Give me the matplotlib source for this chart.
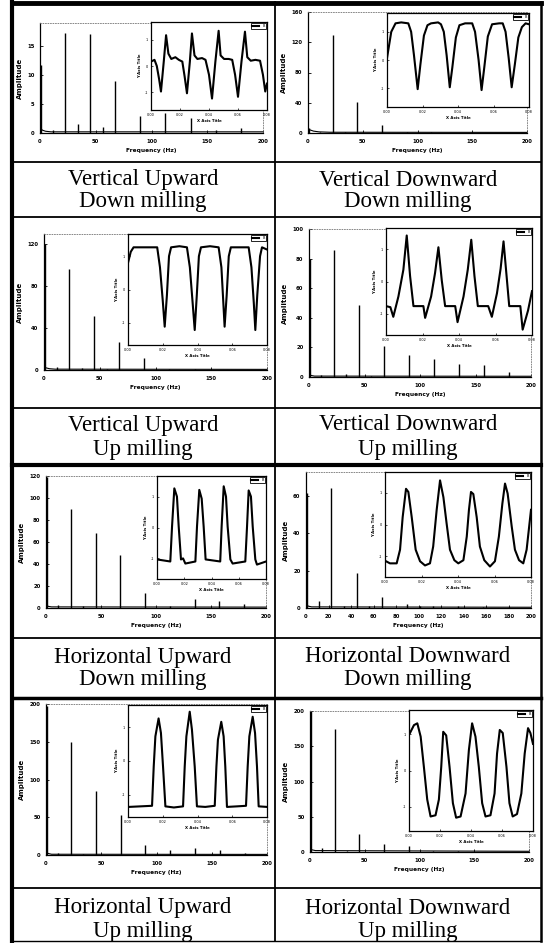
import matplotlib
matplotlib.use("Agg")
import matplotlib.pyplot as plt

W, H = 547, 943

# ---- labels under each spectrum ----
titles = [("Vertical Upward", "Down milling"), ("Vertical Downward", "Down milling"),
          ("Vertical Upward", "Up milling"), ("Vertical Downward", "Up milling"),
          ("Horizontal Upward", "Down milling"), ("Horizontal Downward", "Down milling"),
          ("Horizontal Upward", "Up milling"), ("Horizontal Downward", "Up milling")]

# ---- spectra: peak frequency (Hz) / amplitude, plus a few baseline points ----
f1 = [0.5, 11.25, 22.5, 33.75, 45, 56.25, 67.5, 90, 112.5, 135, 157.5, 180]
a1 = [11.7, 0.6, 17.3, 1.6, 17.1, 1.1, 8.9, 2.9, 3.4, 2.6, 0.6, 0.8]
bf1 = [0, 2, 5, 10, 200]
ba1 = [1.0, 0.5, 0.3, 0.2, 0.2]

f2 = [0.5, 11.25, 22.5, 33.75, 45, 67.5, 90, 112.5]
a2 = [6, 1, 129, 0.8, 41, 11, 1.5, 1.5]
bf2 = [0, 2, 5, 10, 20, 200]
ba2 = [5, 4, 2.5, 1.5, 1, 0.8]

f3 = [0.5, 11.25, 22.5, 33.75, 45, 56.25, 67.5, 90, 112.5, 135]
a3 = [120, 2.5, 96.6, 1.5, 52, 1, 26.6, 11, 1, 1]
bf3 = [0, 2, 5, 10, 200]
ba3 = [3, 2, 1.2, 0.8, 0.6]

f4 = [0.5, 11.25, 22.5, 33.75, 45, 56.25, 67.5, 90, 112.5, 135, 157.5, 180]
a4 = [80, 1.5, 86, 2, 48.5, 1, 21, 14.7, 12, 8.6, 8, 3.4]
bf4 = [0, 2, 5, 200]
ba4 = [2, 1, 0.6, 0.5]

f5 = [0.5, 11.25, 22.5, 33.75, 45, 67.5, 90, 112.5, 135, 157.5, 180]
a5 = [119, 3, 90, 2, 68, 48, 14, 2, 8.5, 6, 3.3]
bf5 = [0, 2, 5, 200]
ba5 = [3, 1.5, 1, 0.8]

f6 = [0.5, 11.25, 22.5, 33.75, 45, 56.25, 67.5, 90, 101, 112.5, 135, 157.5, 180]
a6 = [61.8, 4, 64.5, 1, 19, 1, 6, 2, 1, 1, 1, 0.8, 0.8]
bf6 = [0, 2, 5, 200]
ba6 = [2, 1, 0.6, 0.4]

f7 = [0.5, 11.25, 22.5, 33.75, 45, 67.5, 90, 112.5, 135, 157.5, 180]
a7 = [197, 2, 150, 1.5, 85, 53, 13, 7, 9, 7, 2]
bf7 = [0, 2, 5, 200]
ba7 = [4, 2, 1, 0.8]

f8 = [0.5, 11.25, 22.5, 33.75, 45, 67.5, 90, 112.5, 135]
a8 = [200, 6, 174, 2, 26, 11, 8.5, 2, 1.5]
bf8 = [0, 2, 5, 200]
ba8 = [5, 3, 2, 1]

# ---- inset time signals (normalised time / normalised signal) ----
t1 = [0.0, 0.03, 0.05, 0.07, 0.086, 0.11, 0.13, 0.15, 0.175, 0.21, 0.24, 0.27,
      0.29, 0.31, 0.335, 0.353, 0.375, 0.40, 0.44, 0.47,
      0.50, 0.526, 0.555, 0.583, 0.60, 0.63, 0.67, 0.70,
      0.725, 0.75, 0.78, 0.81, 0.83, 0.86, 0.90, 0.94, 0.965, 0.985, 1.0]
s1 = [0.55, 0.57, 0.50, 0.35, 0.21, 0.55, 0.85, 0.64, 0.58, 0.60, 0.57, 0.55,
      0.38, 0.19, 0.55, 0.87, 0.62, 0.58, 0.59, 0.57,
      0.40, 0.13, 0.55, 0.90, 0.62, 0.58, 0.58, 0.57,
      0.40, 0.15, 0.55, 0.89, 0.60, 0.56, 0.57, 0.56, 0.40, 0.21, 0.30]

t2 = [0.0, 0.03, 0.06, 0.10, 0.15, 0.17, 0.19, 0.216, 0.235, 0.26, 0.285, 0.31, 0.36,
      0.38, 0.40, 0.42, 0.442, 0.46, 0.485, 0.51, 0.55, 0.60, 0.62, 0.645, 0.666,
      0.685, 0.71, 0.74, 0.79, 0.815, 0.835, 0.857, 0.878, 0.90, 0.925, 0.95, 0.976, 1.0]
s2 = [0.52, 0.80, 0.89, 0.90, 0.89, 0.80, 0.55, 0.19, 0.45, 0.76, 0.87, 0.89, 0.90,
      0.88, 0.80, 0.55, 0.21, 0.42, 0.74, 0.87, 0.89, 0.89, 0.80, 0.50, 0.18,
      0.42, 0.75, 0.88, 0.89, 0.89, 0.80, 0.52, 0.21, 0.45, 0.74, 0.85, 0.89, 0.88]

t3 = [0.0, 0.02, 0.04, 0.12, 0.21, 0.23, 0.25, 0.264, 0.28, 0.295, 0.31, 0.37, 0.424,
      0.445, 0.465, 0.48, 0.495, 0.51, 0.525, 0.59, 0.652, 0.672, 0.685, 0.695, 0.71,
      0.725, 0.74, 0.80, 0.868, 0.888, 0.905, 0.916, 0.93, 0.95, 0.964, 1.0]
s3 = [0.74, 0.84, 0.88, 0.88, 0.88, 0.70, 0.40, 0.165, 0.45, 0.80, 0.88, 0.89, 0.88,
      0.70, 0.38, 0.135, 0.45, 0.80, 0.88, 0.89, 0.88, 0.70, 0.40, 0.165, 0.45,
      0.80, 0.88, 0.88, 0.88, 0.70, 0.38, 0.135, 0.45, 0.80, 0.88, 0.86]

t4 = [0.0, 0.03, 0.05, 0.085, 0.119, 0.142, 0.165, 0.188, 0.256, 0.268, 0.309, 0.336,
      0.359, 0.382, 0.405, 0.474, 0.49, 0.531, 0.56, 0.584, 0.606, 0.629, 0.70, 0.725,
      0.76, 0.785, 0.805, 0.826, 0.844, 0.92, 0.936, 0.973, 1.0]
s4 = [0.27, 0.26, 0.17, 0.36, 0.61, 0.93, 0.55, 0.27, 0.27, 0.16, 0.36, 0.58,
      0.82, 0.51, 0.27, 0.27, 0.12, 0.36, 0.61, 0.89, 0.55, 0.27, 0.27, 0.17,
      0.39, 0.62, 0.875, 0.55, 0.27, 0.27, 0.05, 0.23, 0.41]

t5 = [0.0, 0.122, 0.138, 0.159, 0.183, 0.199, 0.22, 0.239, 0.26, 0.352, 0.367, 0.388,
      0.41, 0.428, 0.446, 0.58, 0.593, 0.612, 0.633, 0.648, 0.673, 0.694, 0.81, 0.826,
      0.841, 0.862, 0.878, 0.902, 0.917, 1.0]
s5 = [0.19, 0.17, 0.51, 0.88, 0.80, 0.51, 0.19, 0.20, 0.15, 0.17, 0.51, 0.865,
      0.78, 0.51, 0.19, 0.17, 0.51, 0.90, 0.80, 0.51, 0.19, 0.15, 0.17, 0.51,
      0.86, 0.80, 0.51, 0.19, 0.14, 0.17]

t6 = [0.007, 0.034, 0.08, 0.103, 0.121, 0.144, 0.16, 0.183, 0.21, 0.24, 0.274, 0.308,
      0.33, 0.354, 0.377, 0.40, 0.422, 0.445, 0.475, 0.502, 0.537, 0.56, 0.575, 0.589,
      0.605, 0.628, 0.65, 0.68, 0.719, 0.753, 0.78, 0.804, 0.822, 0.84, 0.868, 0.89,
      0.918, 0.947, 0.97, 1.0]
s6 = [0.15, 0.13, 0.13, 0.26, 0.57, 0.84, 0.81, 0.57, 0.26, 0.15, 0.11, 0.13,
      0.29, 0.64, 0.92, 0.76, 0.51, 0.26, 0.16, 0.13, 0.16, 0.385, 0.64, 0.81,
      0.79, 0.57, 0.29, 0.16, 0.10, 0.15, 0.385, 0.70, 0.89, 0.795, 0.48, 0.26,
      0.16, 0.13, 0.26, 0.64]

t7 = [0.005, 0.089, 0.173, 0.185, 0.197, 0.22, 0.237, 0.252, 0.269, 0.33, 0.396, 0.408,
      0.42, 0.444, 0.46, 0.48, 0.496, 0.556, 0.624, 0.636, 0.647, 0.671, 0.688, 0.70,
      0.712, 0.784, 0.849, 0.861, 0.873, 0.897, 0.914, 0.928, 0.94, 1.0]
s7 = [0.09, 0.095, 0.10, 0.45, 0.72, 0.88, 0.75, 0.45, 0.095, 0.085, 0.095, 0.45,
      0.72, 0.94, 0.78, 0.45, 0.095, 0.09, 0.10, 0.45, 0.69, 0.85, 0.72, 0.45,
      0.09, 0.095, 0.10, 0.45, 0.72, 0.895, 0.75, 0.45, 0.095, 0.09]

t8 = [0.008, 0.04, 0.067, 0.094, 0.12, 0.147, 0.174, 0.214, 0.241, 0.26, 0.276, 0.30,
      0.327, 0.354, 0.38, 0.416, 0.456, 0.483, 0.509, 0.536, 0.563, 0.59, 0.617, 0.657,
      0.69, 0.71, 0.732, 0.756, 0.786, 0.81, 0.836, 0.871, 0.906, 0.933, 0.96, 0.979, 1.0]
s8 = [0.81, 0.875, 0.89, 0.78, 0.53, 0.26, 0.12, 0.13, 0.26, 0.53, 0.82, 0.79,
      0.53, 0.23, 0.11, 0.12, 0.31, 0.67, 0.89, 0.78, 0.53, 0.23, 0.12, 0.13,
      0.31, 0.64, 0.835, 0.81, 0.53, 0.23, 0.12, 0.14, 0.31, 0.64, 0.85, 0.81, 0.72]

freqs = [f1, f2, f3, f4, f5, f6, f7, f8]
amps = [a1, a2, a3, a4, a5, a6, a7, a8]
base_f = [bf1, bf2, bf3, bf4, bf5, bf6, bf7, bf8]
base_a = [ba1, ba2, ba3, ba4, ba5, ba6, ba7, ba8]
times = [t1, t2, t3, t4, t5, t6, t7, t8]
sigs = [s1, s2, s3, s4, s5, s6, s7, s8]

ylims = [19, 160, 130, 100, 120, 73, 200, 200]
ysteps = [5, 40, 40, 20, 20, 20, 50, 50]
xsteps = [50, 50, 50, 50, 50, 20, 50, 50]

# layout in pixels: (left, top, right, bottom)
spec_box = [(40, 23, 263, 133), (308, 12, 527, 133),
            (44, 234, 267, 370), (309, 229, 531, 377),
            (46, 476, 266, 608), (306, 472, 531, 608),
            (46, 704, 267, 855), (310, 711, 529, 852)]
inset_box = [(151, 22, 267, 110), (387, 13, 529, 107),
             (128, 234, 267, 345), (386, 228, 532, 335),
             (157, 476, 266, 579), (385, 472, 531, 577),
             (128, 705, 267, 817), (409, 710, 533, 831)]
label_y = [(180, 201), (180, 201), (425, 449), (425, 449),
           (657, 679), (657, 679), (908, 931), (908, 931)]


def rect(b):
    l, t, r, bt = b
    return [l / W, 1 - bt / H, (r - l) / W, (bt - t) / H]


fig = plt.figure(figsize=(W / 100, H / 100), dpi=100)
fig.patch.set_facecolor("white")

# table frame
bg = fig.add_axes([0, 0, 1, 1])
bg.set_xlim(0, W)
bg.set_ylim(H, 0)
bg.axis("off")
bg.plot([12, 12], [2, 941], color="black", lw=3)
bg.plot([275, 275], [2, 941], color="black", lw=1.3)
bg.plot([541, 541], [2, 941], color="black", lw=1.8)
for y, lw in [(3, 3.5), (162, 1.3), (217, 1.3), (408, 1.3), (465, 3),
              (638, 1.3), (698, 2.5), (888, 1.3), (941, 1.0)]:
    bg.plot([12, 541], [y, y], color="black", lw=lw)

for i in range(8):
    xc = 143 if i % 2 == 0 else 408
    bg.text(xc, label_y[i][0], titles[i][0], ha="center", va="center",
            family="Liberation Serif", fontsize=16.5)
    bg.text(xc, label_y[i][1], titles[i][1], ha="center", va="center",
            family="Liberation Serif", fontsize=16.5)

    # spectrum
    ax = fig.add_axes(rect(spec_box[i]))
    ax.vlines(freqs[i], 0, amps[i], color="black", lw=1.0)
    ax.plot(base_f[i], base_a[i], color="black", lw=0.8)
    ax.set_xlim(0, 200)
    ax.set_ylim(0, ylims[i])
    ax.set_xticks(range(0, 201, xsteps[i]))
    ax.set_yticks(range(0, ylims[i] + 1, ysteps[i]))
    ax.tick_params(direction="in", length=2, width=0.6, labelsize=3.8, pad=4)
    for lab in ax.get_xticklabels() + ax.get_yticklabels():
        lab.set_fontweight("bold")
    for s in ["top", "right"]:
        ax.spines[s].set_linestyle((0, (1, 2)))
        ax.spines[s].set_color("0.45")
        ax.spines[s].set_linewidth(0.6)
    for s in ["left", "bottom"]:
        ax.spines[s].set_linewidth(0.9)
    ax.set_xlabel("Frequency (Hz)", fontsize=4.2, fontweight="bold", labelpad=3)
    ax.set_ylabel("Amplitude", fontsize=5, fontweight="bold", labelpad=3)

    # time signal inset
    ins = fig.add_axes(rect(inset_box[i]))
    ins.plot(times[i], sigs[i], color="black", lw=1.5, label="B")
    ins.set_xlim(0, 1)
    ins.set_ylim(0, 1)
    ins.set_xticks([0, 0.25, 0.5, 0.75, 1.0])
    ins.set_xticklabels(["0.00", "0.02", "0.04", "0.06", "0.08"])
    ins.set_yticks([0.2, 0.5, 0.8])
    ins.set_yticklabels(["-1", "0", "1"])
    ins.tick_params(direction="in", length=1.5, width=0.5, labelsize=2.5, pad=2)
    for s in ins.spines.values():
        s.set_linewidth(0.9)
    ins.set_xlabel("X Axis Title", fontsize=2.8, fontweight="bold", labelpad=1.5)
    ins.set_ylabel("Y Axis Title", fontsize=2.8, fontweight="bold", labelpad=2)
    leg = ins.legend(loc="upper right", fontsize=2.5, handlelength=2,
                     borderpad=0.3, fancybox=False, edgecolor="black",
                     framealpha=1, borderaxespad=0.4)
    leg.get_frame().set_linewidth(0.6)

fig.savefig("out.png", dpi=100, facecolor="white")
